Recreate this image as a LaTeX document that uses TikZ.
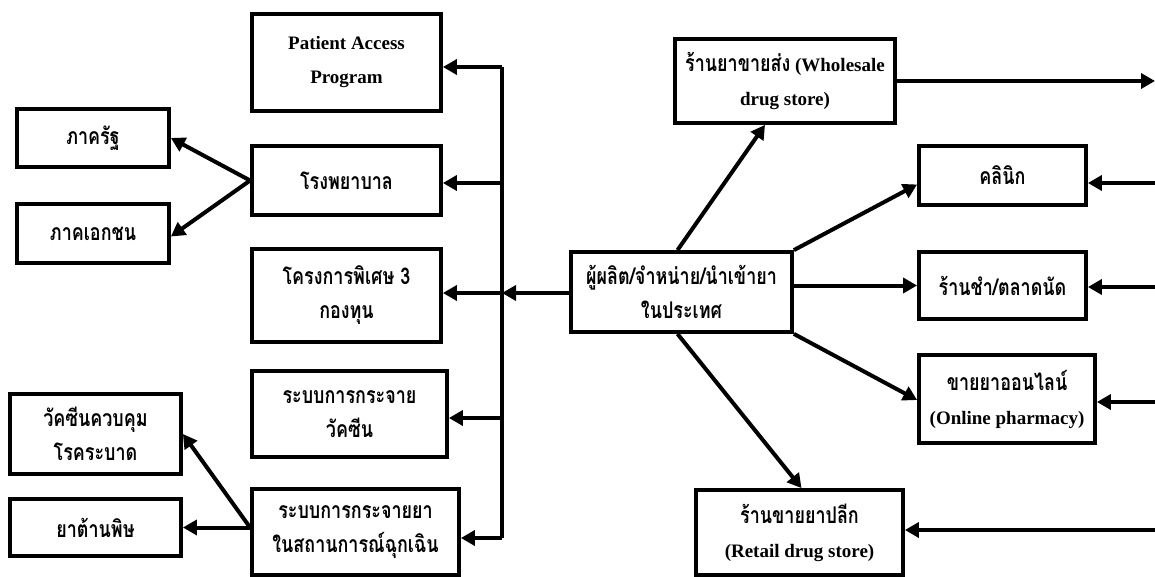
\documentclass[tikz,border=0pt]{standalone}
\usepackage{fontspec}
\setmainfont{Liberation Serif}
\newfontfamily\thaifont[Script=Thai,FakeStretch=0.78]{Loma}
\usetikzlibrary{arrows.meta,calc}
\newcommand\tht[1]{{\thaifont\fontsize{23}{34}\selectfont #1}}
\begin{document}
\begin{tikzpicture}[x=1pt,y=-1pt,
  box/.style={draw, line width=3.8pt, inner sep=0pt, align=center,
    font=\bfseries\fontsize{19}{34}\selectfont},
  arr/.style={line width=4pt, -{Triangle[length=14pt,width=15pt]}},
  ln/.style={line width=4pt}]
\useasboundingbox (0,0) rectangle (1155,577);
% left column boxes
\node[box, minimum width=189pt, minimum height=97pt] (pap) at (346.5,62.5) {Patient Access\\Program};
\node[box, minimum width=152pt, minimum height=58pt] (state) at (93,138) {\tht{ภาครัฐ}};
\node[box, minimum width=189pt, minimum height=69pt] (hosp) at (346.5,180.5) {\tht{โรงพยาบาล}};
\node[box, minimum width=152pt, minimum height=59pt] (priv) at (93,233.5) {\tht{ภาคเอกชน}};
\node[box, minimum width=189pt, minimum height=93pt] (fund) at (346.5,295.5) {\tht{โครงการพิเศษ 3}\\\tht{กองทุน}};
\node[box, minimum width=195pt, minimum height=86pt] (vacc) at (349.5,414) {\tht{ระบบการกระจาย}\\\tht{วัคซีน}};
\node[box, minimum width=171pt, minimum height=80pt] (epid) at (95.5,434) {\tht{วัคซีนควบคุม}\\\tht{โรคระบาด}};
\node[box, minimum width=171pt, minimum height=57pt] (anti) at (95.5,527.5) {\tht{ยาต้านพิษ}};
\node[box, minimum width=207pt, minimum height=86pt] (emer) at (355.5,532) {\tht{ระบบการกระจายยา}\\\tht{ในสถานการณ์ฉุกเฉิน}};
% centre and right boxes
\node[box, minimum width=221pt, minimum height=80pt] (main) at (681.5,292) {\tht{ผู้ผลิต/จำหน่าย/นำเข้ายา}\\\tht{ในประเทศ}};
\node[box, minimum width=220pt, minimum height=84pt] (whole) at (785,81) {\tht{ร้านยาขายส่ง} (Wholesale\\drug store)};
\node[box, minimum width=167pt, minimum height=59pt] (clinic) at (1002.5,175.5) {\tht{คลินิก}};
\node[box, minimum width=167pt, minimum height=67pt] (groc) at (1002.5,285.5) {\tht{ร้านชำ/ตลาดนัด}};
\node[box, minimum width=176pt, minimum height=88pt] (online) at (1007,399) {\tht{ขายยาออนไลน์}\\(Online pharmacy)};
\node[box, minimum width=207pt, minimum height=85pt] (retail) at (799.5,532.5) {\tht{ร้านขายยาปลีก}\\(Retail drug store)};
% trunk
\coordinate (t1) at (502,67);
\coordinate (t2) at (502,183);
\coordinate (t3) at (502,293);
\coordinate (t4) at (502,418);
\coordinate (t5) at (502,538);
\draw[ln] (t1) -- (t5);
\draw[arr] (t1) -- (t1 -| pap.east);
\draw[arr] (t2) -- (t2 -| hosp.east);
\draw[arr] (t3) -- (t3 -| fund.east);
\draw[arr] (t4) -- (t4 -| vacc.east);
\draw[arr] (t5) -- (t5 -| emer.east);
\draw[arr] (main.west |- t3) -- (t3);
% hospital branches
\draw[arr] (hosp.west) -- (state.east);
\draw[arr] (hosp.west) -- ($(priv.east)+(0,3)$);
% emergency branches
\coordinate (eb) at (emer.west |- anti.east);
\draw[arr] (eb) -- (epid.east);
\draw[arr] (eb) -- (anti.east);
% main outgoing
\draw[arr] ($(main.north)+(-4,0)$) -- ($(whole.south)+(-20,0)$);
\draw[arr] (main.north east) -- ($(clinic.west)+(0,9)$);
\draw[arr] (groc.west -| main.east) -- (groc.west);
\draw[arr] (main.south east) -- ($(online.west)+(0,1)$);
\draw[arr] ($(main.south)+(-4,0)$) -- ($(retail.north)+(2,0)$);
% right edge
\coordinate (r0) at (1155,81);
\coordinate (r1) at (1155,183);
\coordinate (r2) at (1155,287);
\coordinate (r3) at (1155,402);
\coordinate (r4) at (1155,530);
\draw[arr] (whole.east |- r0) -- (r0);
\draw[arr] (r1) -- (r1 -| clinic.east);
\draw[arr] (r2) -- (r2 -| groc.east);
\draw[arr] (r3) -- (r3 -| online.east);
\draw[arr] (r4) -- (r4 -| retail.east);
\end{tikzpicture}
\end{document}
